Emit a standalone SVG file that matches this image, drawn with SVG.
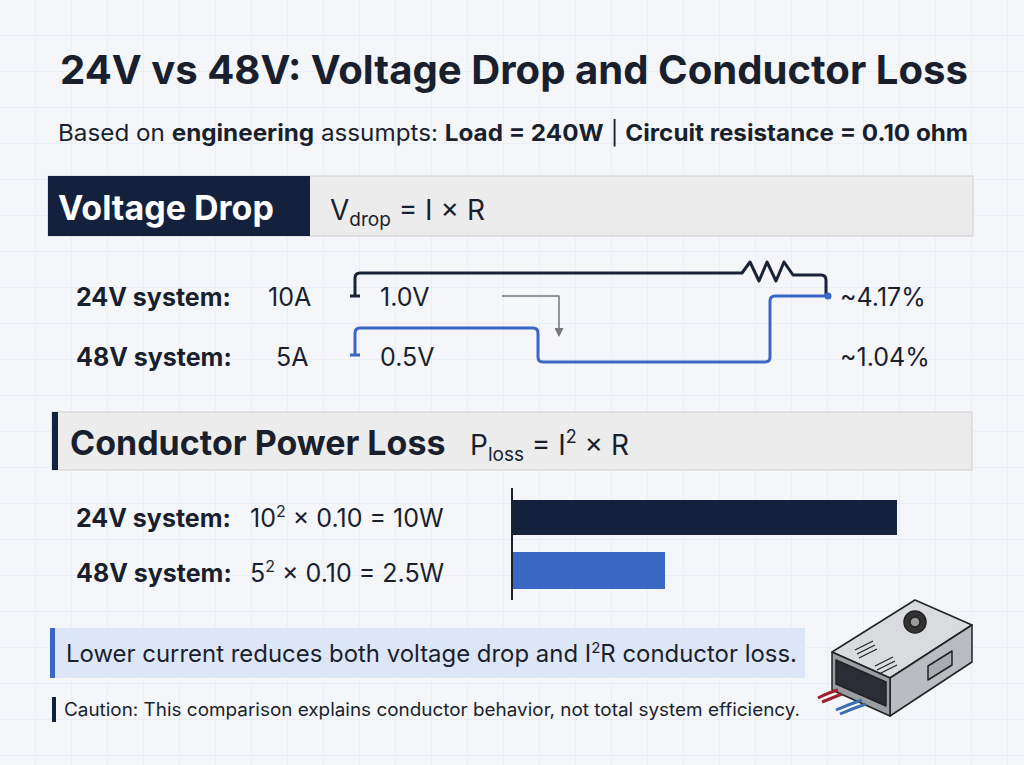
<svg xmlns="http://www.w3.org/2000/svg" width="1024" height="765" viewBox="0 0 1024 765">
<defs>
<pattern id="grid" width="36" height="36" patternUnits="userSpaceOnUse"><path d="M36 0V36H0" fill="none" stroke="#e3e7ee" stroke-width="1"/></pattern>
<marker id="ar" markerWidth="9" markerHeight="9" refX="7" refY="4.5" orient="auto" markerUnits="userSpaceOnUse"><path d="M0,0 L9,4.5 L0,9 Z" fill="#777"/></marker>
<style>
text{font-family:Inter,"Liberation Sans",sans-serif;fill:#1a1f2e}
.b{font-weight:700}
.row{font-size:25px}
.hdr{fill:#ececec;stroke:#cfcfcf}
</style>
</defs>
<rect width="1024" height="765" fill="#f4f6fa"/>
<rect width="1024" height="765" fill="url(#grid)"/>
<g id="title">
<text x="60" y="84" textLength="908" lengthAdjust="spacingAndGlyphs" class="b" font-size="40" fill="#1a2238">24V vs 48V: Voltage Drop and Conductor Loss</text>
<text x="58" y="141" textLength="910" lengthAdjust="spacingAndGlyphs" font-size="23">Based on <tspan class="b">engineering</tspan> assumpts: <tspan class="b">Load = 240W</tspan>  |  <tspan class="b">Circuit resistance = 0.10 ohm</tspan></text>
</g>
<g id="vdrop-header">
<rect class="hdr" x="48" y="176" width="925" height="60"/>
<rect x="48" y="176" width="262" height="60" fill="#14213d"/>
<text x="58" y="220" class="b" font-size="34" style="fill:#fff">Voltage Drop</text>
<text x="330" y="220" font-size="28">V<tspan font-size="19" dy="6">drop</tspan><tspan dy="-6"> = I × R</tspan></text>
</g>
<g id="vdrop-rows" class="row">
<text x="76" y="306" class="b">24V system:</text><text x="268" y="306">10A</text><text x="380" y="306">1.0V</text>
<text x="76" y="366" class="b">48V system:</text><text x="276" y="366">5A</text><text x="380" y="366">0.5V</text>
<text x="840" y="306">~4.17%</text><text x="840" y="366">~1.04%</text>
</g>
<g id="connectors" fill="none" stroke-width="3" stroke-linejoin="round">
<path d="M355,296 V278 Q355,273 360,273 H742 L750,262 L759,281 L767,262 L776,281 L784,262 L793,275 H821 Q826,275 826,280 V296" stroke="#1a2238"/>
<path d="M350,296 H360" stroke="#1a2238"/>
<path d="M828,296 H775 Q770,296 770,301 V357 Q770,362 765,362 H543 Q538,362 538,357 V333 Q538,328 533,328 H360 Q355,328 355,333 V355" stroke="#3a66c4"/>
<path d="M350,355 H360" stroke="#3a66c4"/>
<circle cx="828" cy="296" r="3.5" fill="#3a66c4" stroke="none"/>
<path d="M502,296 H559 V335" stroke="#777" stroke-width="1.5" marker-end="url(#ar)"/>
</g>
<g id="loss-header">
<rect class="hdr" x="52" y="412" width="920" height="58"/>
<rect x="52" y="412" width="6" height="58" fill="#14213d"/>
<text x="70" y="455" class="b" font-size="34">Conductor Power Loss</text>
<text x="470" y="455" font-size="28">P<tspan font-size="19" dy="6">loss</tspan><tspan dy="-6"> = I</tspan><tspan font-size="18" dy="-12">2</tspan><tspan dy="12"> × R</tspan></text>
</g>
<g id="loss-rows" class="row">
<text x="76" y="527" class="b">24V system:</text><text x="250" y="527">10<tspan font-size="16" dy="-10">2</tspan><tspan dy="10"> × 0.10 = 10W</tspan></text>
<text x="76" y="582" class="b">48V system:</text><text x="250" y="582">5<tspan font-size="16" dy="-10">2</tspan><tspan dy="10"> × 0.10 = 2.5W</tspan></text>
</g>
<g id="bars">
<line x1="512" y1="488" x2="512" y2="600" stroke="#1a1f2e" stroke-width="2"/>
<rect x="513" y="500" width="384" height="35" fill="#14213d"/>
<rect x="513" y="552" width="152" height="37" fill="#3a66c4"/>
</g>
<g id="callout">
<rect x="50" y="628" width="755" height="50" fill="#dde6f7"/>
<rect x="50" y="628" width="5" height="50" fill="#3a66c4"/>
<text x="66" y="662" font-size="24" textLength="731" lengthAdjust="spacingAndGlyphs">Lower current reduces both voltage drop and I<tspan font-size="15" dy="-9">2</tspan><tspan dy="9">R conductor loss.</tspan></text>
</g>
<g id="caution">
<rect x="52" y="697" width="4" height="25" fill="#14213d"/>
<text x="64" y="716" font-size="18" textLength="736" lengthAdjust="spacingAndGlyphs">Caution: This comparison explains conductor behavior, not total system efficiency.</text>
</g>
<g id="psu" stroke="#222" stroke-width="1.5" stroke-linejoin="round">
<path d="M832,652 L915,600 L972,625 L890,678 Z" fill="#d9dbde"/>
<path d="M890,678 L972,625 L972,662 L890,716 Z" fill="#b9bcc0"/>
<path d="M832,652 L890,678 L890,716 L832,690 Z" fill="#9a9da2"/>
<path d="M836,660 L886,682 L886,706 L836,684 Z" fill="#2a2d33"/>
<circle cx="915" cy="622" r="11" fill="#333"/>
<circle cx="915" cy="622" r="5" fill="#999"/>
<path d="M855,650 l18,-9 M857,654 l18,-9 M859,658 l18,-9 M875,666 l18,-9 M877,670 l18,-9 M879,674 l18,-9" stroke-width="1.2"/>
<path d="M928,666 L952,651 L952,665 L928,680 Z" fill="#a8abaf"/>
<path d="M838,690 C830,692 826,694 818,698" stroke="#a02030" stroke-width="3" fill="none"/>
<path d="M842,694 C834,697 830,699 822,702" stroke="#a02030" stroke-width="3" fill="none"/>
<path d="M862,700 C850,704 845,706 836,710" stroke="#3a70b0" stroke-width="3" fill="none"/>
<path d="M866,704 C854,708 849,710 840,714" stroke="#3a70b0" stroke-width="3" fill="none"/>
</g>
</svg>
